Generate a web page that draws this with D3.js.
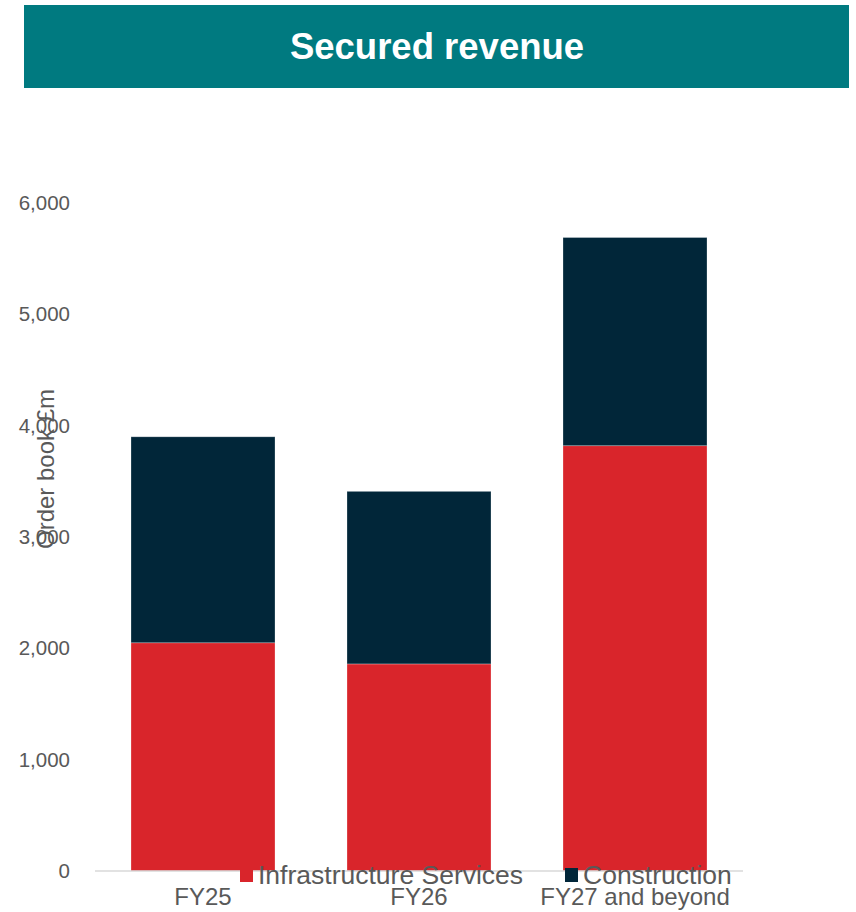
<!DOCTYPE html>
<html>
<head>
<meta charset="utf-8">
<script src="https://cdn.jsdelivr.net/npm/d3@7"></script>
<style>
  html, body { margin: 0; padding: 0; background: #fff; }
  svg { display: block; }
</style>
</head>
<body>
<svg id="chart" width="856" height="912"></svg>
<script>
// Order book by delivery period, £m
const categories = ["FY25", "FY26", "FY27 and beyond"];
const seriesNames = ["Infrastructure Services", "Construction"];
const infrastructure = [2050, 1860, 3820];
const construction = [1850, 1550, 1870];
const yTicks = [0, 1000, 2000, 3000, 4000, 5000, 6000];
const colors = ["#d9252b", "#012639"];

const svg = d3.select("#chart");
const font = "'Liberation Sans', Arial, sans-serif";
const textColor = "#595959";

// Title banner
svg.append("rect").attr("x", 24).attr("y", 5).attr("width", 825).attr("height", 83).attr("fill", "#007a80");
svg.append("text").attr("x", 437).attr("y", 59).attr("text-anchor", "middle")
  .attr("font-family", font).attr("font-weight", "bold").attr("font-size", 36.5)
  .attr("fill", "#fff").text("Secured revenue");

const x = d3.scaleBand().domain(categories).range([95, 743]).paddingInner(1/3).paddingOuter(1/6);
const y = d3.scaleLinear().domain([0, 6000]).range([871, 203]);

const rows = categories.map((c, i) => ({ cat: c, "Infrastructure Services": infrastructure[i], "Construction": construction[i] }));
const stacked = d3.stack().keys(seriesNames)(rows);

// Stacked bars
svg.append("g").selectAll("g").data(stacked).join("g")
  .attr("fill", (d, i) => colors[i])
  .selectAll("rect").data(d => d).join("rect")
  .attr("x", d => x(d.data.cat))
  .attr("width", x.bandwidth())
  .attr("y", d => y(d[1]))
  .attr("height", d => y(d[0]) - y(d[1]))
  .attr("stroke", "#ffffff").attr("stroke-opacity", 0.35).attr("stroke-width", 0.75);

// Baseline
svg.append("line").attr("x1", 95).attr("x2", 743).attr("y1", y(0)).attr("y2", y(0))
  .attr("stroke", "#d9d9d9").attr("stroke-width", 1.5);

// Y axis labels
const yAxis = svg.append("g").attr("transform", "translate(70,0)")
  .call(d3.axisLeft(y).tickValues(yTicks).tickFormat(d3.format(",")).tickSize(0).tickPadding(0));
yAxis.select(".domain").remove();
yAxis.selectAll("text").attr("font-family", font).attr("font-size", 20.5).attr("fill", textColor);

// X axis labels
const xAxis = svg.append("g").attr("transform", `translate(0,${y(0)})`)
  .call(d3.axisBottom(x).tickSize(0).tickPadding(17));
xAxis.select(".domain").remove();
xAxis.selectAll("text").attr("font-family", font).attr("font-size", 24).attr("fill", textColor);

// Y axis title
svg.append("text").attr("transform", "translate(54,469) rotate(-90)").attr("text-anchor", "middle")
  .attr("font-family", font).attr("font-size", 24).attr("fill", textColor).text("Order book £m");

// Legend
const legendPos = [240, 565];
const legend = svg.append("g").selectAll("g").data(seriesNames).join("g")
  .attr("transform", (d, i) => `translate(${legendPos[i]},868)`);
legend.append("rect").attr("width", 13).attr("height", 14).attr("fill", (d, i) => colors[i]);
legend.append("text").attr("x", 18).attr("y", 16).attr("font-family", font).attr("font-size", 26.5)
  .attr("fill", textColor).text(d => d);
</script>
</body>
</html>
